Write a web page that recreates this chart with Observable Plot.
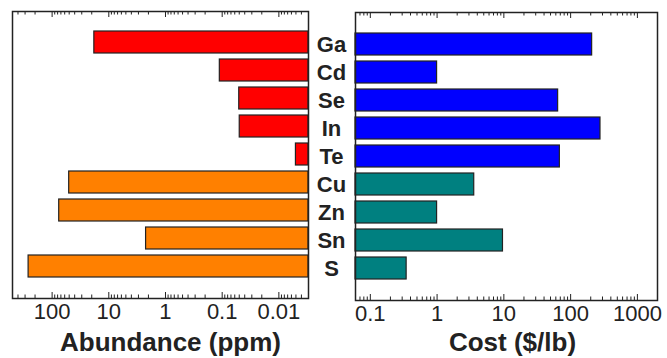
<!DOCTYPE html>
<html>
<head>
<meta charset="utf-8">
<script src="https://cdn.jsdelivr.net/npm/d3@7"></script>
<script src="https://cdn.jsdelivr.net/npm/@observablehq/plot@0.6"></script>
<style>
  html, body { margin: 0; padding: 0; background: #fff; }
  #chart { position: relative; width: 667px; height: 358px; overflow: hidden; }
  #chart > svg { position: absolute; top: 0; }
</style>
</head>
<body>
<div id="chart"></div>
<script>
// Elements, top to bottom
const elements = ["Ga", "Cd", "Se", "In", "Te", "Cu", "Zn", "Sn", "S"];
// Crustal abundance (ppm)
const abundance = [18, 0.11, 0.05, 0.049, 0.005, 50, 75, 2.2, 260];
// Cost ($/lb)
const cost = [210, 1.0, 65, 280, 69, 3.6, 1.0, 9.7, 0.35];
// Scarce vs. common elements
const group = ["scarce", "scarce", "scarce", "scarce", "scarce", "common", "common", "common", "common"];

const abundanceTicks = [100, 10, 1, 0.1, 0.01];
const costTicks = [0.1, 1, 10, 100, 1000];
const abundanceDomain = [500, 0.003];
const costDomain = [0.06, 2000];

const rows = elements.map((el, i) => ({el, abundance: abundance[i], cost: cost[i], group: group[i]}));

const FONT = "'Liberation Sans', Arial, Helvetica, sans-serif";
const INK = "#222";

// log-decade minor/major tick positions inside a domain
function logTicks([a, b]) {
  const lo = Math.min(a, b), hi = Math.max(a, b);
  const major = [], minor = [];
  for (let e = Math.floor(Math.log10(lo)); e <= Math.ceil(Math.log10(hi)); e++) {
    for (let m = 1; m <= 9; m++) {
      const v = +(m * Math.pow(10, e)).toPrecision(6);
      if (v < lo || v > hi) continue;
      (m === 1 ? major : minor).push(v);
    }
  }
  return {major, minor};
}

// inward-pointing ticks on the top and bottom edges of the frame
function tickMarks(domain, plotH) {
  const {major, minor} = logTicks(domain);
  const s = {stroke: INK, strokeWidth: 1};
  return [
    Plot.ruleX(major, {x: d => d, insetTop: plotH - 6, ...s}),
    Plot.ruleX(major, {x: d => d, insetBottom: plotH - 6, ...s}),
    Plot.ruleX(minor, {x: d => d, insetTop: plotH - 3.5, ...s}),
    Plot.ruleX(minor, {x: d => d, insetBottom: plotH - 3.5, ...s})
  ];
}

const yScale = {domain: elements, paddingInner: 0.2, paddingOuter: 0.58, axis: null};

// Left panel: abundance, reversed log axis, bars grow leftward
const leftTop = 11, leftBottom = 60, H = 358;
const left = Plot.plot({
  width: 310, height: H,
  marginLeft: 12, marginRight: 2, marginTop: leftTop, marginBottom: leftBottom,
  style: {fontFamily: FONT, background: "transparent", overflow: "visible"},
  x: {type: "log", domain: abundanceDomain, axis: null, label: null},
  y: yScale,
  color: {domain: ["scarce", "common"], range: ["#ff0000", "#ff8000"]},
  marks: [
    Plot.barX(rows, {y: "el", x1: "abundance", x2: abundanceDomain[1], fill: "group", stroke: INK, strokeWidth: 1.2}),
    ...tickMarks(abundanceDomain, H - leftTop - leftBottom),
    Plot.axisX({ticks: abundanceTicks, tickFormat: d => String(d), tickSize: 0, tickPadding: 5, fontSize: 22, color: INK, label: null}),
    Plot.text(["Abundance (ppm)"], {frameAnchor: "bottom", lineAnchor: "top", dy: 34, dx: 10, fontSize: 26, fontWeight: "bold", fill: INK}),
    Plot.frame({stroke: INK, strokeWidth: 1.5})
  ]
});
left.style.left = "0px";

// Right panel: cost, log axis, element labels on the left
const rightTop = 12, rightBottom = 58;
const right = Plot.plot({
  width: 357, height: H,
  marginLeft: 45, marginRight: 10, marginTop: rightTop, marginBottom: rightBottom,
  style: {fontFamily: FONT, background: "transparent", overflow: "visible"},
  x: {type: "log", domain: costDomain, axis: null, label: null},
  y: yScale,
  color: {domain: ["scarce", "common"], range: ["#0000ff", "#008080"]},
  marks: [
    Plot.barX(rows, {y: "el", x1: costDomain[0], x2: "cost", fill: "group", stroke: INK, strokeWidth: 1.2}),
    ...tickMarks(costDomain, H - rightTop - rightBottom),
    Plot.axisX({ticks: costTicks, tickFormat: d => String(d), tickSize: 0, tickPadding: 5, fontSize: 22, color: INK, label: null}),
    Plot.text(rows, {y: "el", text: "el", frameAnchor: "left", dx: -24, textAnchor: "middle", fontSize: 22, fontWeight: "bold", fill: INK}),
    Plot.text(["Cost ($/lb)"], {frameAnchor: "bottom", lineAnchor: "top", dy: 32, dx: 6, fontSize: 26, fontWeight: "bold", fill: INK}),
    Plot.frame({stroke: INK, strokeWidth: 1.5})
  ]
});
right.style.left = "310px";

const chart = document.getElementById("chart");
chart.append(left, right);
</script>
</body>
</html>
